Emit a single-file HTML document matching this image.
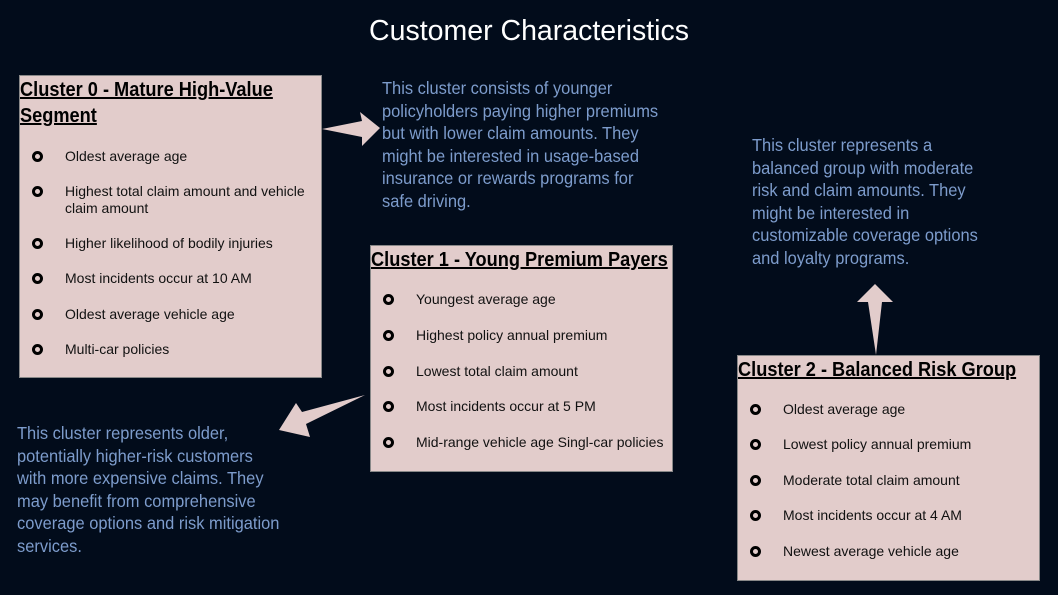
<!DOCTYPE html><html><head><style>
body{margin:0;width:1058px;height:595px;background:#020c1b;position:relative;overflow:hidden;font-family:"Liberation Sans",sans-serif}
.t{position:absolute;left:0;width:1058px;top:15px;text-align:center;color:#fff;font-size:28.5px}
.box{position:absolute;background:#e2cccb;border:1px solid #888;box-sizing:border-box}
.box h3{margin:0;font-size:20px;font-weight:bold;text-decoration:underline;color:#000;line-height:26px;position:absolute;left:0;top:1px;white-space:nowrap;transform:scaleX(0.91);transform-origin:left top}
.li{position:absolute;left:45px;font-size:14px;color:#111;line-height:17px;white-space:nowrap}
.li:before{content:"";position:absolute;left:-33px;top:3px;width:5px;height:5px;border:3px solid #000;border-radius:50%}
.d{position:absolute;color:#7d9ccc;font-size:17.5px;line-height:22.5px;white-space:nowrap;transform:scaleX(0.94);transform-origin:left top}
</style></head><body>
<div class="t">Customer Characteristics</div>
<div class="box" style="left:19px;top:75px;width:303px;height:303px">
<h3>Cluster 0 - Mature High-Value<br>Segment</h3>
<div class="li" style="top:72px">Oldest average age</div>
<div class="li" style="top:107px">Highest total claim amount and vehicle<br>claim amount</div>
<div class="li" style="top:159px">Higher likelihood of bodily injuries</div>
<div class="li" style="top:194px">Most incidents occur at 10 AM</div>
<div class="li" style="top:230px">Oldest average vehicle age</div>
<div class="li" style="top:265px">Multi-car policies</div>
</div>
<div class="box" style="left:370px;top:245px;width:303px;height:227px">
<h3>Cluster 1 - Young Premium Payers</h3>
<div class="li" style="top:45px">Youngest average age</div>
<div class="li" style="top:81px">Highest policy annual premium</div>
<div class="li" style="top:117px">Lowest total claim amount</div>
<div class="li" style="top:152px">Most incidents occur at 5 PM</div>
<div class="li" style="top:188px">Mid-range vehicle age Singl-car policies</div>
</div>
<div class="box" style="left:737px;top:355px;width:303px;height:226px">
<h3>Cluster 2 - Balanced Risk Group</h3>
<div class="li" style="top:45px">Oldest average age</div>
<div class="li" style="top:80px">Lowest policy annual premium</div>
<div class="li" style="top:116px">Moderate total claim amount</div>
<div class="li" style="top:151px">Most incidents occur at 4 AM</div>
<div class="li" style="top:187px">Newest average vehicle age</div>
</div>
<div class="d" style="left:382px;top:77px">This cluster consists of younger<br>policyholders paying higher premiums<br>but with lower claim amounts. They<br>might be interested in usage-based<br>insurance or rewards programs for<br>safe driving.</div>
<div class="d" style="left:752px;top:134px">This cluster represents a<br>balanced group with moderate<br>risk and claim amounts. They<br>might be interested in<br>customizable coverage options<br>and loyalty programs.</div>
<div class="d" style="left:17px;top:422px">This cluster represents older,<br>potentially higher-risk customers<br>with more expensive claims. They<br>may benefit from comprehensive<br>coverage options and risk mitigation<br>services.</div>
<svg width="1058" height="595" style="position:absolute;left:0;top:0">
<g fill="#e2cccb">
<polygon points="322,129 362,121 360,112 380,128 362,146 362,137"/>
<polygon points="365,395 302,412 296,403 279,430 310,437 306,424"/>
<polygon points="875,284 857,302 868,302 876,355 882,302 893,302"/>
</g></svg>
</body></html>
